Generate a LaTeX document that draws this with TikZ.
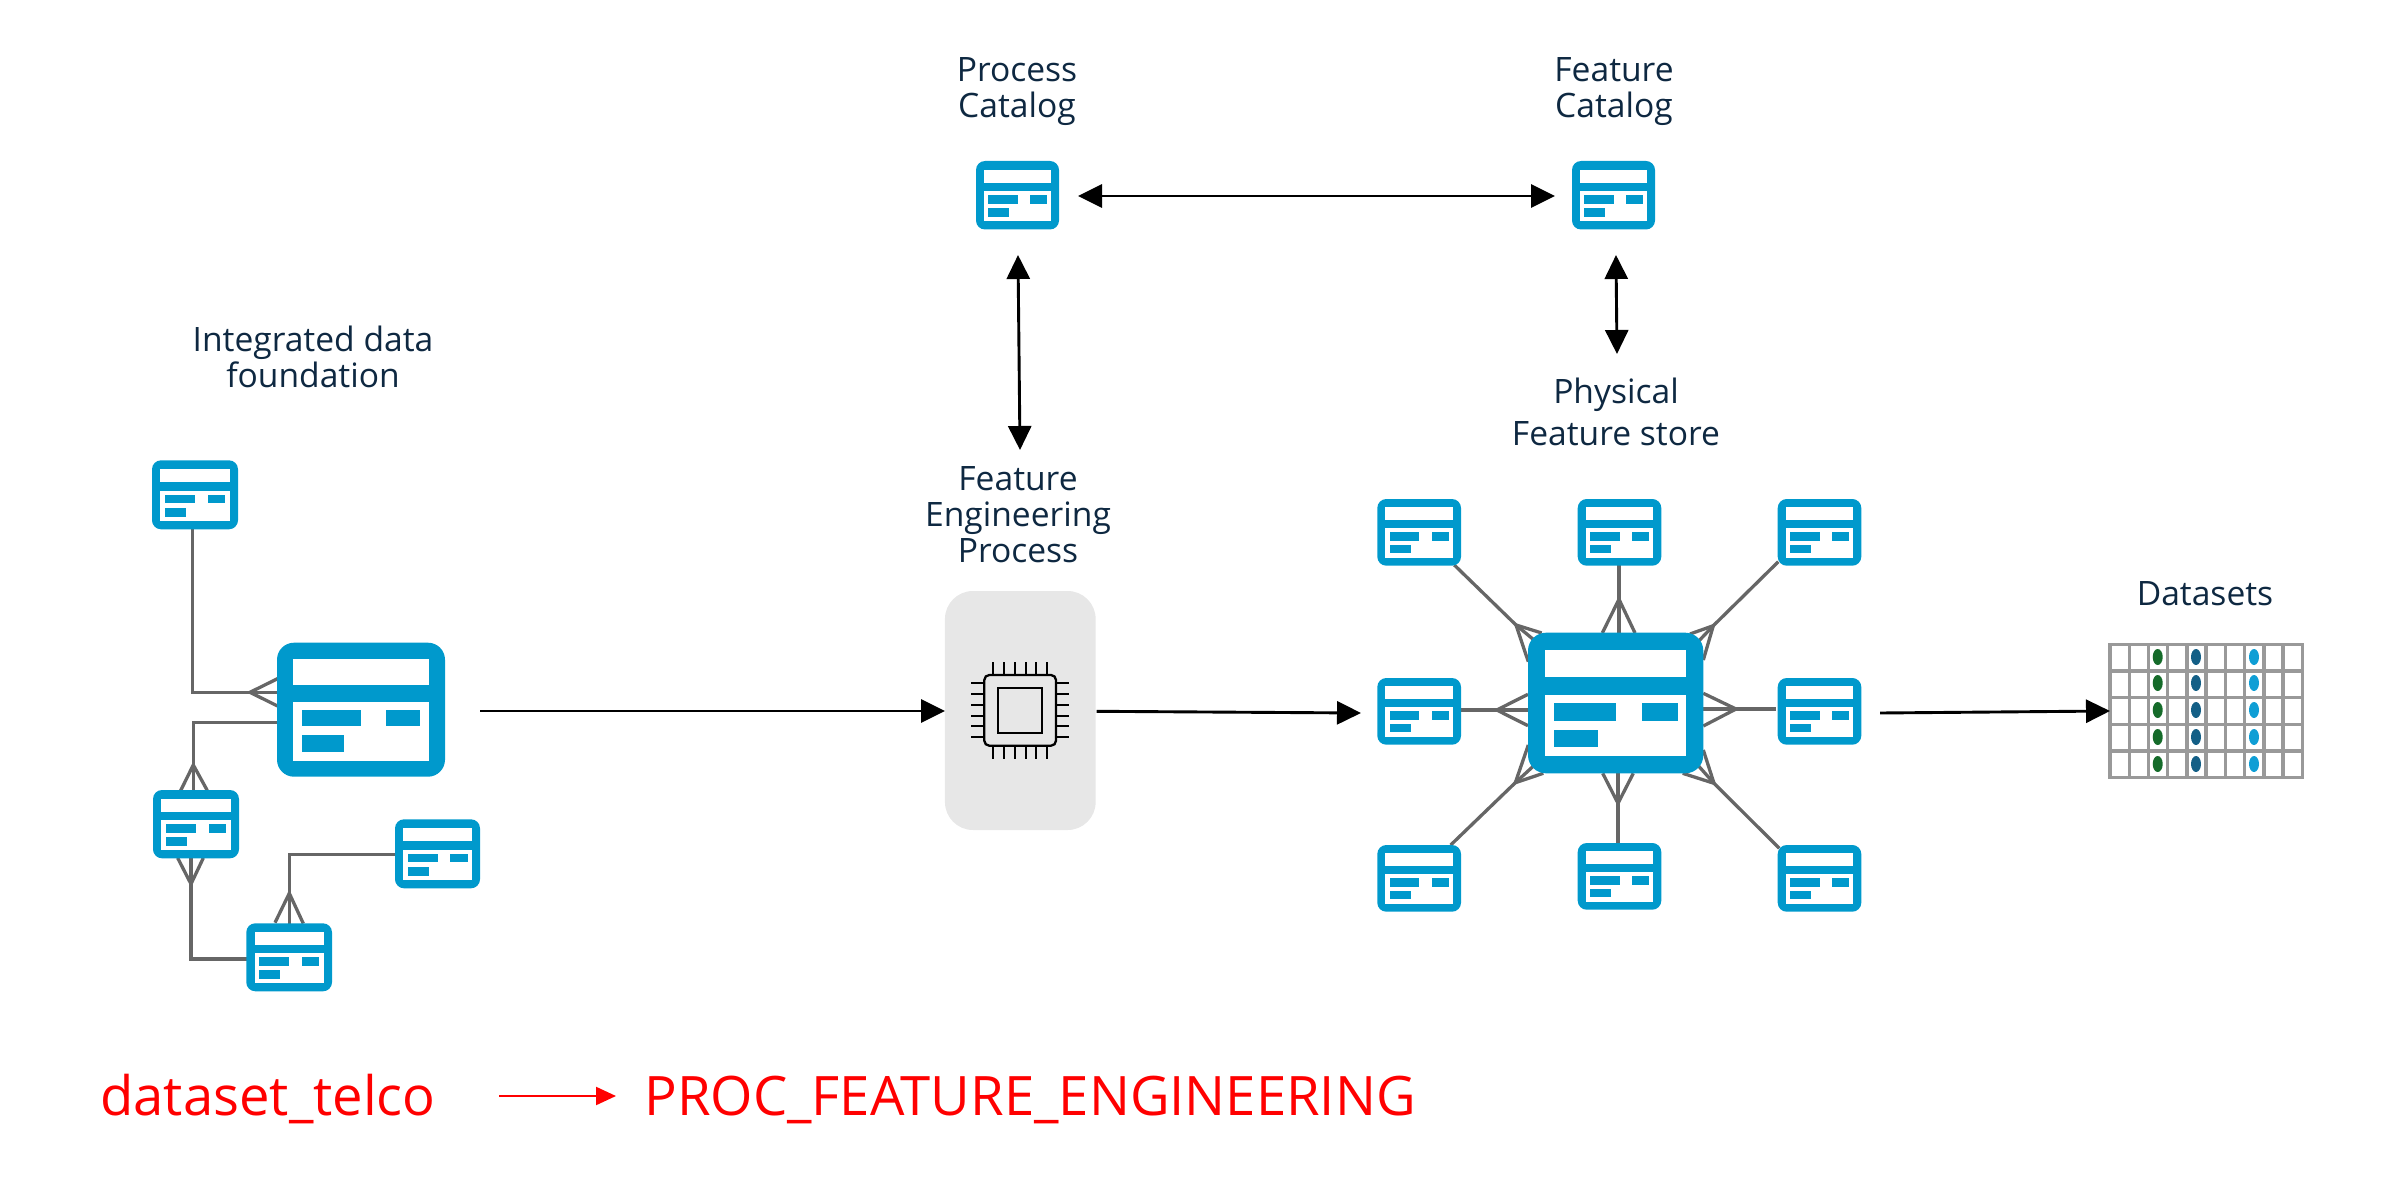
\documentclass[tikz,border=0pt]{standalone}
\usepackage{fontspec}
\setmainfont{Open Sans}
\usetikzlibrary{arrows.meta}
\definecolor{iconblue}{HTML}{0099CC}
\definecolor{linkgray}{HTML}{666666}
\definecolor{navy}{HTML}{0E2841}
\definecolor{gridgray}{HTML}{999999}
\definecolor{dotgreen}{HTML}{156B2A}
\definecolor{dotteal}{HTML}{135F86}
\definecolor{dotblue}{HTML}{0F9ED5}
\tikzset{
  x=0.5pt,y=-0.5pt,
  iconframe/.style={draw=none,fill=iconblue,inner sep=0pt,outer sep=0pt,rectangle},
  hole/.style={fill=white,draw=none},
  bar/.style={fill=iconblue,draw=none},
  link/.style={draw=linkgray,line width=1.65pt,line join=miter},
  flow/.style={draw=black,line width=1.45pt,-{Triangle[length=12pt,width=11.5pt]}},
  flowboth/.style={draw=black,line width=1.45pt,{Triangle[length=12pt,width=11.5pt]}-{Triangle[length=12pt,width=11.5pt]}},
  label/.style={text=navy,font=\fontsize{16.8}{18}\selectfont,align=center,inner sep=0pt},
  redtext/.style={text=red,font=\fontsize{27.2}{28}\selectfont,inner sep=0pt,anchor=base west},
  pin/.style={draw=black,line width=1.15pt},
}
% \iconbox{name}{left}{top}{right}{bottom}{corner}
\newcommand{\iconbox}[6]{%
  \pgfmathsetmacro{\iw}{#4-#2}\pgfmathsetmacro{\ih}{#5-#3}
  \node[iconframe,rounded corners=#6*0.5pt,minimum width=\iw*0.5pt,minimum height=\ih*0.5pt] (#1) at ({(#2+#4)/2},{(#3+#5)/2}) {};
  \fill[hole] ({#2+.096*\iw},{#3+.125*\ih}) rectangle ({#2+.902*\iw},{#3+.315*\ih});
  \fill[hole] ({#2+.096*\iw},{#3+.44*\ih}) rectangle ({#2+.902*\iw},{#3+.88*\ih});
  \fill[bar] ({#2+.147*\iw},{#3+.50*\ih}) rectangle ({#2+.50*\iw},{#3+.625*\ih});
  \fill[bar] ({#2+.65*\iw},{#3+.50*\ih}) rectangle ({#2+.853*\iw},{#3+.625*\ih});
  \fill[bar] ({#2+.147*\iw},{#3+.69*\ih}) rectangle ({#2+.398*\iw},{#3+.815*\ih});
}
\begin{document}
\begin{tikzpicture}
\useasboundingbox (0,0) rectangle (2383,1182);

% connectors of the left group (below the icons)
\draw[link] (192.7,529) -- (192.7,692.3) -- (277.5,692.3);
\draw[link] (277.5,678.7) -- (250,692.3) -- (277.5,706);
\draw[link] (277.5,722.7) -- (193.3,722.7) -- (193.3,799);
\draw[link] (180.7,790.5) -- (193.3,765) -- (207.3,790.5);
\draw[link] (246.5,959) -- (191,959) -- (191,858);
\draw[link] (177.7,858) -- (191,884) -- (203.3,858);
\draw[link] (395.5,854.7) -- (289.3,854.7) -- (289.3,923.5);
\draw[link] (275,922.7) -- (289.3,893.3) -- (303.3,923.5);

% connectors of the feature store
\draw[link] (1454.3,565) -- (1516,625) -- (1540,645);
\draw[link] (1541.7,633) -- (1516,625) -- (1528.3,661.7);
\draw[link] (1619,565) -- (1619,633);
\draw[link] (1602.3,633) -- (1619,599.3) -- (1635,633);
\draw[link] (1778.3,561.7) -- (1713.3,625.7) -- (1695,645);
\draw[link] (1690,634) -- (1713.3,625.7) -- (1703.3,660);
\draw[link] (1461,710) -- (1528,710);
\draw[link] (1528,694.3) -- (1496.7,710) -- (1528,725.7);
\draw[link] (1776,709) -- (1703,709);
\draw[link] (1703.3,693.3) -- (1736,709) -- (1703.3,726);
\draw[link] (1450.7,845) -- (1515.3,782.7) -- (1540,760);
\draw[link] (1528.3,745) -- (1515.3,782.7) -- (1543.3,773.3);
\draw[link] (1618,843) -- (1618,773);
\draw[link] (1602.7,773.3) -- (1618,803.3) -- (1633.3,773.3);
\draw[link] (1779.3,848.3) -- (1714,783.3) -- (1695,762);
\draw[link] (1703.3,750) -- (1714,783.3) -- (1682.7,773.3);

% icons: left group
\iconbox{srcA}{152}{460.3}{238}{529.3}{9}
\iconbox{hubL}{277}{642.7}{445}{776.7}{17}
\iconbox{srcB}{153}{790}{239}{858.3}{9}
\iconbox{srcC}{246.3}{923.3}{332}{991.3}{9}
\iconbox{srcD}{395}{819.3}{480}{888.3}{9}
% icons: catalogs
\iconbox{proc}{976}{161}{1059}{229.5}{9}
\iconbox{feat}{1572}{161}{1655}{229.5}{9}
% icons: feature store
\iconbox{hubR}{1528}{632.7}{1703.3}{773.3}{18}
\iconbox{fsTL}{1377.3}{499}{1461}{565.7}{9}
\iconbox{fsTC}{1577.7}{499}{1661.3}{565.7}{9}
\iconbox{fsTR}{1777.7}{499}{1861.3}{565.7}{9}
\iconbox{fsML}{1377.3}{678}{1461}{744.7}{9}
\iconbox{fsMR}{1777.7}{678}{1861.3}{744.7}{9}
\iconbox{fsBL}{1377.3}{845}{1461}{911.7}{9}
\iconbox{fsBC}{1577.7}{843}{1661.3}{909.7}{9}
\iconbox{fsBR}{1777.7}{845}{1861.3}{911.7}{9}

% chip panel
\node[fill=black!9.5,draw=none,rounded corners=14pt,minimum width=75.35pt,minimum height=119.5pt,inner sep=0pt,outer sep=0pt] (panel) at (1020.3,710.5) {};
\foreach \px in {992.7,1003.7,1014.7,1025.7,1036.3,1047.3}{
  \draw[pin] (\px,662.3) -- (\px,675);
  \draw[pin] (\px,745.7) -- (\px,759);
}
\foreach \py in {683.3,694.3,705,715.7,726.3,737.3}{
  \draw[pin] (971,\py) -- (984.3,\py);
  \draw[pin] (1056,\py) -- (1069,\py);
}
\draw[pin,rounded corners=2.5pt] (984.3,675) rectangle (1056,745.7);
\draw[pin] (998,688.3) rectangle (1042.3,732.7);

% dataset grid
\foreach \gx in {0,...,10}{
  \draw[gridgray,line width=1.7pt,line cap=rect] ({2110+\gx*19.23},644.5) -- ({2110+\gx*19.23},777.5);
}
\foreach \gy in {0,...,5}{
  \draw[gridgray,line width=1.7pt,line cap=rect] (2110,{644.5+\gy*26.6}) -- (2302.3,{644.5+\gy*26.6});
}
\foreach \gy in {657,683,710,737,764}{
  \fill[dotgreen] (2157.7,\gy) ellipse [x radius=5,y radius=8];
  \fill[dotteal] (2196,\gy) ellipse [x radius=5,y radius=8];
  \fill[dotblue] (2254,\gy) ellipse [x radius=5,y radius=8];
}
\coordinate (gridin) at (2110,711);
\coordinate (dataout) at (1880,713);
\coordinate (procout) at (1096.7,711.3);
\coordinate (storein) at (1361,713);
\coordinate (hubout) at (480,711);
\coordinate (panelin) at (945,711);

% flows
\draw[flow] (hubout) -- (panelin);
\draw[flow] (procout) -- (storein);
\draw[flow] (dataout) -- (gridin);
\coordinate (c1) at (1078,196);
\coordinate (c2) at (1555,196);
\draw[flowboth] (c1) -- (c2);
\coordinate (c3) at (1018,255);
\coordinate (c4) at (1020,450);
\draw[flowboth] (c3) -- (c4);
\coordinate (c5) at (1616,255);
\coordinate (c6) at (1617,354);
\draw[flowboth] (c5) -- (c6);

% labels
\node[label] (lproc) at (1017,92) {Process\\[0pt]Catalog};
\node[label] (lfeat) at (1614,92) {Feature\\[0pt]Catalog};
\node[label] (lint) at (313,357) {Integrated data\\[0pt]foundation};
\node[label] (lfep) at (1018,515) {Feature\\[0pt]Engineering\\[0pt]Process};
\node[label,font=\fontsize{16.8}{21}\selectfont] (lphy) at (1616,412) {Physical\\[0pt]Feature store};
\node[label] (ldat) at (2205,594) {Datasets};

% red line
\node[redtext] (rd) at (100,1115) {dataset\_telco};
\node[redtext] (rp) at (644,1115) {PROC\_FEATURE\_ENGINEERING};
\coordinate (r1) at (499,1096);
\coordinate (r2) at (616,1096);
\draw[red,line width=1.1pt,-{Triangle[length=10pt,width=9pt]}] (r1) -- (r2);
\end{tikzpicture}
\end{document}
